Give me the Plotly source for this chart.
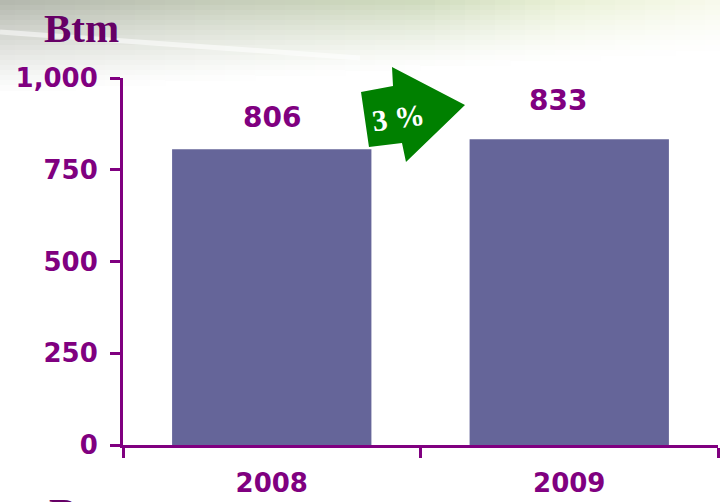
import plotly.graph_objects as go

# ---- data ----
years = ["2008", "2009"]
values = [806, 833]
value_labels = ["806", "833"]
y_ticks = [0, 250, 500, 750, 1000]
y_tick_labels = ["0", "250", "500", "750", "1,000"]
unit_label = "Btm"
growth_label = "3 %"

# label placement (style, pixel shifts from the top of each bar)
label_shifts = [(0, 32), (-11, 39)]

W, H = 720, 502
ML, MR, MT, MB = 123, 2, 78, 57
PW, PH = W - ML - MR, H - MT - MB

PURPLE = "#800080"
DARK_PURPLE = "#660066"
BAR = "#656599"
GREEN = "#008000"


def px2paper(x, y):
    return (x - ML) / PW, (H - MB - y) / PH


fig = go.Figure()
fig.add_trace(go.Bar(x=years, y=values, marker_color=BAR, marker_line_width=0,
                     hoverinfo="skip"))

shapes = []

# ---- soft photographic background at the top (approximation) ----
def base_col(x):
    stops = [(0, (178, 182, 172)), (220, (196, 204, 184)), (420, (206, 218, 188)),
             (560, (232, 240, 212)), (720, (248, 250, 236))]
    for (x0, c0), (x1, c1) in zip(stops[:-1], stops[1:]):
        if x0 <= x <= x1:
            t = (x - x0) / (x1 - x0)
            return tuple(c0[i] + (c1[i] - c0[i]) * t for i in range(3))
    return stops[-1][1]


def fade(x, y):
    depth = 95 - 0.06 * x  # gradient depth shrinks toward the right
    depth = max(depth, 45)
    a = max(0.0, 1 - y / depth)
    return a ** 1.3


cw, ch = 15, 5
for cx in range(0, W, cw):
    for cy in range(0, 120, ch):
        xm, ym = cx + cw / 2, cy + ch / 2
        a = fade(xm, ym)
        if a <= 0.01:
            continue
        c = base_col(xm)
        r, g, b = (int(255 + (c[i] - 255) * a) for i in range(3))
        x0, y0 = px2paper(cx, cy)
        x1, y1 = px2paper(cx + cw + 1, cy + ch + 1)
        shapes.append(dict(type="rect", xref="paper", yref="paper",
                           x0=x0, x1=x1, y0=y1, y1=y0, layer="below",
                           fillcolor=f"rgb({r},{g},{b})", line_width=0))

# light diagonal streak
sx0, sy0 = px2paper(0, 32)
sx1, sy1 = px2paper(360, 58)
shapes.append(dict(type="line", xref="paper", yref="paper", x0=sx0, y0=sy0,
                   x1=sx1, y1=sy1, layer="below",
                   line=dict(color="rgba(255,255,255,0.55)", width=5)))

# ---- growth arrow ----
arrow_px = [(361, 92), (393, 86), (392, 67), (465, 105), (406, 162), (402, 143), (369, 147)]
pts = [px2paper(x, y) for x, y in arrow_px]
path = "M " + " L ".join(f"{x:.4f},{y:.4f}" for x, y in pts) + " Z"
shapes.append(dict(type="path", xref="paper", yref="paper", path=path,
                   fillcolor=GREEN, line_width=0, layer="above"))

annotations = []
for i, (v, lab, (dx, dy)) in enumerate(zip(values, value_labels, label_shifts)):
    annotations.append(dict(x=i, y=v, xref="x", yref="y", text=lab, showarrow=False,
                            yanchor="middle", xanchor="center", yshift=dy, xshift=dx,
                            font=dict(family="DejaVu Sans", size=28, color=PURPLE,
                                      weight="bold")))

tx, ty = px2paper(398, 117)
annotations.append(dict(x=tx, y=ty, xref="paper", yref="paper", text=growth_label,
                        showarrow=False, textangle=-8, xanchor="center", yanchor="middle",
                        font=dict(family="Liberation Serif", size=30, color="white",
                                  weight="bold")))

ux, uy = px2paper(81, 28)
annotations.append(dict(x=ux, y=uy, xref="paper", yref="paper", text=unit_label,
                        showarrow=False, xanchor="center", yanchor="middle",
                        font=dict(family="Liberation Serif", size=41, color=DARK_PURPLE,
                                  weight="bold")))
bx, by = px2paper(86, 512)
annotations.append(dict(x=bx, y=by, xref="paper", yref="paper", text=unit_label,
                        showarrow=False, xanchor="center", yanchor="middle",
                        font=dict(family="Liberation Serif", size=41, color=DARK_PURPLE,
                                  weight="bold")))

fig.update_layout(
    width=W, height=H,
    margin=dict(l=ML, r=MR, t=MT, b=MB, pad=0),
    paper_bgcolor="white", plot_bgcolor="rgba(0,0,0,0)",
    showlegend=False, bargap=0.33,
    shapes=shapes, annotations=annotations,
    xaxis=dict(type="category", range=[-0.5, 1.5], showline=True, linecolor=PURPLE,
               linewidth=3, ticks="outside", ticklen=10, tickwidth=3, tickcolor=PURPLE,
               tickson="boundaries", showgrid=False, zeroline=False,
               ticklabelstandoff=13,
               tickfont=dict(family="DejaVu Sans", size=26, color=PURPLE, weight="bold")),
    yaxis=dict(range=[0, 1000], tickvals=y_ticks, ticktext=y_tick_labels,
               showline=True, linecolor=PURPLE, linewidth=3, ticks="outside",
               ticklen=10, tickwidth=3, tickcolor=PURPLE, showgrid=False,
               zeroline=False, ticklabelstandoff=7,
               tickfont=dict(family="DejaVu Sans", size=26, color=PURPLE, weight="bold")),
)

fig.write_html("out.html", config={"displayModeBar": False},
               post_script="document.body.style.margin='0';document.body.style.padding='0';"
                           "document.body.style.overflow='hidden';")
